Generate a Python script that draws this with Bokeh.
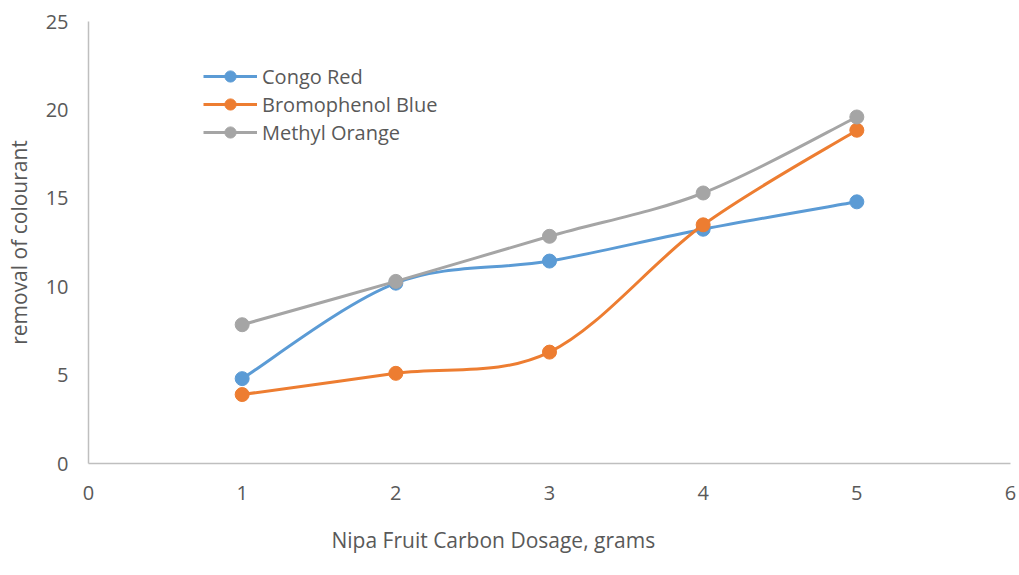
from bokeh.plotting import figure
from bokeh.models import Range1d, Legend, LegendItem, FixedTicker, ColumnDataSource, Title
from bokeh.embed import file_html
from bokeh.resources import INLINE

dosage = [1, 2, 3, 4, 5]
congo_red = [4.8, 10.2, 11.45, 13.25, 14.8]
bromophenol_blue = [3.9, 5.1, 6.3, 13.5, 18.85]
methyl_orange = [7.85, 10.3, 12.85, 15.3, 19.6]

series = [
    ("Congo Red", congo_red, "#5B9BD5"),
    ("Bromophenol Blue", bromophenol_blue, "#ED7D31"),
    ("Methyl Orange", methyl_orange, "#A5A5A5"),
]

FONT = "Open Sans"
TXT = "#595959"

p = figure(width=1019, height=575, output_backend="svg", toolbar_location=None,
           x_range=Range1d(0, 6), y_range=Range1d(0, 25),
           min_border_left=88, min_border_top=21, min_border_right=9, min_border_bottom=112)
p.outline_line_color = None
p.grid.visible = False

for ax in (p.xaxis[0], p.yaxis[0]):
    ax.axis_line_color = "#BFBFBF"
    ax.axis_line_width = 1.5
    ax.major_tick_line_color = None
    ax.minor_tick_line_color = None
    ax.major_label_text_font = FONT
    ax.major_label_text_font_size = "20px"
    ax.major_label_text_color = TXT
    ax.axis_label_text_font = FONT
    ax.axis_label_text_font_size = "21px"
    ax.axis_label_text_color = TXT
    ax.axis_label_text_font_style = "normal"

p.xaxis.ticker = FixedTicker(ticks=[0, 1, 2, 3, 4, 5, 6])
p.yaxis.ticker = FixedTicker(ticks=[0, 5, 10, 15, 20, 25])
p.xaxis.major_label_standoff = 16
p.yaxis.major_label_standoff = 14
p.yaxis.axis_label = "removal of colourant"
p.yaxis.axis_label_standoff = 10

xlabel = Title(text="Nipa Fruit Carbon Dosage, grams", align="left", offset=243,
               standoff=42, vertical_align="bottom", text_font=FONT, text_font_size="21px",
               text_font_style="normal", text_color=TXT)
p.add_layout(xlabel, "below")


def bezier_segments(xs, ys):
    n = len(xs)
    seg = dict(x0=[], y0=[], x1=[], y1=[], cx0=[], cy0=[], cx1=[], cy1=[])
    for i in range(n - 1):
        ip = max(i - 1, 0)
        inn = min(i + 2, n - 1)
        seg["x0"].append(xs[i]); seg["y0"].append(ys[i])
        seg["x1"].append(xs[i + 1]); seg["y1"].append(ys[i + 1])
        seg["cx0"].append(xs[i] + (xs[i + 1] - xs[ip]) / 6)
        seg["cy0"].append(ys[i] + (ys[i + 1] - ys[ip]) / 6)
        seg["cx1"].append(xs[i + 1] - (xs[inn] - xs[i]) / 6)
        seg["cy1"].append(ys[i + 1] - (ys[inn] - ys[i]) / 6)
    return ColumnDataSource(seg)


items = []
for name, vals, color in series:
    src = bezier_segments(dosage, vals)
    b = p.bezier(x0="x0", y0="y0", x1="x1", y1="y1", cx0="cx0", cy0="cy0",
                 cx1="cx1", cy1="cy1", source=src, line_color=color, line_width=3)
    s = p.scatter(dosage, vals, size=14, marker="circle", fill_color=color, line_color=color)
    items.append(LegendItem(label=name, renderers=[b, s]))

legend = Legend(items=items, location=(115, 317), padding=0, margin=0, spacing=0,
                glyph_width=54, glyph_height=28, label_height=28, label_standoff=5,
                border_line_color=None, background_fill_alpha=0,
                label_text_font=FONT, label_text_font_size="20px", label_text_color=TXT)
p.add_layout(legend, "center")

open("out.html", "w").write(file_html(p, INLINE))
